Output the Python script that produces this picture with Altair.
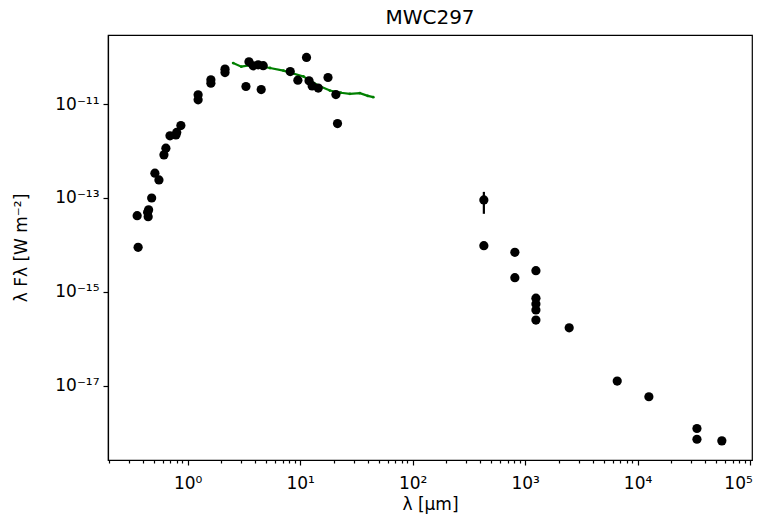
import math
import altair as alt
import pandas as pd

# Photometry (wavelength in micron, lambda*F_lambda in W m^-2)
phot_wl = [0.356, 0.363, 0.441, 0.446, 0.450, 0.479, 0.512, 0.556, 0.616, 0.641,
           0.697, 0.787, 0.80, 0.871, 1.24, 1.24, 1.61, 1.61, 2.15, 2.15,
           3.30, 3.51, 3.83, 4.24, 4.51, 4.70, 8.17, 9.55, 11.4, 12.0,
           12.8, 14.5, 17.7, 20.8, 21.5, 430, 430, 811, 811, 1248,
           1248, 1248, 1248, 1248, 2466, 6590, 12600, 33700, 33700, 56100]
phot_flux = [4.2e-14, 8.9e-15, 4.97e-14, 4.0e-14, 5.6e-14, 1.0e-13, 3.37e-13, 2.43e-13, 8.3e-13, 1.15e-12,
             2.11e-12, 2.21e-12, 2.5e-12, 3.49e-12, 1.58e-11, 1.24e-11, 3.3e-11, 2.8e-11, 5.58e-11, 4.72e-11,
             2.38e-11, 8.0e-11, 6.57e-11, 6.9e-11, 2.05e-11, 6.6e-11, 4.96e-11, 3.25e-11, 9.9e-11, 3.14e-11,
             2.45e-11, 2.2e-11, 3.7e-11, 1.6e-11, 3.85e-12, 9.1e-14, 9.6e-15, 6.95e-15, 2.0e-15, 2.82e-15,
             7.3e-16, 5.5e-16, 4.1e-16, 2.5e-16, 1.71e-16, 1.25e-17, 5.8e-18, 1.22e-18, 7.2e-19, 6.65e-19]

# Spectrum (green)
spec_wl = [2.54, 3.0, 3.5, 4.05, 5.4, 7.1, 10.7, 15.0, 18.4, 23.0, 27.7, 34.0, 40.0, 44.7]
spec_flux = [7.5e-11, 6.3e-11, 6.7e-11, 6.6e-11, 5.9e-11, 5.2e-11, 3.9e-11, 2.4e-11, 1.95e-11,
             1.75e-11, 1.66e-11, 1.72e-11, 1.5e-11, 1.41e-11]

# Error bar
err_wl = [430]
err_lo = [4.6e-14]
err_hi = [1.35e-13]

x_major = [1, 10, 100, 1000, 10000, 100000]
x_minor = [m * 10 ** e for e in range(-1, 5) for m in range(2, 10) if 0.196 <= m * 10 ** e <= 1.04e5]
y_major = [1e-17, 1e-15, 1e-13, 1e-11]

SUP = str.maketrans("-0123456789", "⁻⁰¹²³⁴⁵⁶⁷⁸⁹")
LOGE = "log(datum.value)/LN10"
IS_MAJOR = f"abs({LOGE} - round({LOGE})) < 0.001"


def sup_label_expr(values):
    expr = "''"
    for v in reversed(values):
        n = int(round(math.log10(v)))
        expr = f"({IS_MAJOR} && round({LOGE}) == {n}) ? '10{str(n).translate(SUP)}' : " + expr
    return expr


phot = pd.DataFrame({"wl": phot_wl, "flux": phot_flux})
spec = pd.DataFrame({"wl": spec_wl, "flux": spec_flux})
err = pd.DataFrame({"wl": err_wl, "lo": err_lo, "hi": err_hi})

xscale = alt.Scale(type="log", domain=[0.196, 1.04e5], nice=False)
yscale = alt.Scale(type="log", domain=[2.6e-19, 2.98e-10], nice=False)

xaxis = alt.Axis(values=x_major + x_minor,
                 labelExpr=sup_label_expr(x_major),
                 title="λ [μm]", orient="bottom", grid=False,
                 tickSize={"condition": {"test": IS_MAJOR, "value": 5}, "value": 3},
                 labelOffset={"condition": {"test": "datum.value > 50000", "value": -12}, "value": 0},
                 labelPadding=10, titlePadding=5, labelOverlap=False, labelFlush=False)
yaxis = alt.Axis(values=y_major, labelExpr=sup_label_expr(y_major), title="λ Fλ [W m⁻²]",
                 grid=False, tickSize=5, labelPadding=4, titlePadding=24, labelOverlap=False)

X = alt.X("wl:Q", scale=xscale, axis=xaxis)
Y = alt.Y("flux:Q", scale=yscale, axis=yaxis)

points = alt.Chart(phot).mark_circle(size=85, color="black", opacity=1).encode(x=X, y=Y)

line = alt.Chart(spec).mark_line(
    color="green", strokeWidth=2.2,
    point=alt.OverlayMarkDef(color="green", size=8, filled=True),
).encode(x=X, y=Y)

ebar = alt.Chart(err).mark_rule(color="black", strokeWidth=2.2).encode(
    x=X,
    y=alt.Y("lo:Q", scale=yscale, axis=yaxis),
    y2="hi:Q",
)

chart = alt.layer(line, ebar, points).properties(
    width=644,
    height=425,
    title=alt.TitleParams("MWC297", fontSize=20, fontWeight="normal", font="DejaVu Sans",
                          color="black", offset=7, anchor="middle"),
    autosize=alt.AutoSizeParams(type="none"),
    padding={"left": 100, "top": 27, "right": 3, "bottom": 56},
).configure_view(stroke="black", strokeWidth=1.2).configure_axis(
    labelFont="DejaVu Sans", titleFont="DejaVu Sans", labelFontSize=17, titleFontSize=17,
    titleFontWeight="normal", labelColor="black", titleColor="black", tickColor="black",
    domainColor="black", domainWidth=1.2, tickWidth=1.2,
)

chart.save("out.html", embed_options={"renderer": "svg", "actions": False})
